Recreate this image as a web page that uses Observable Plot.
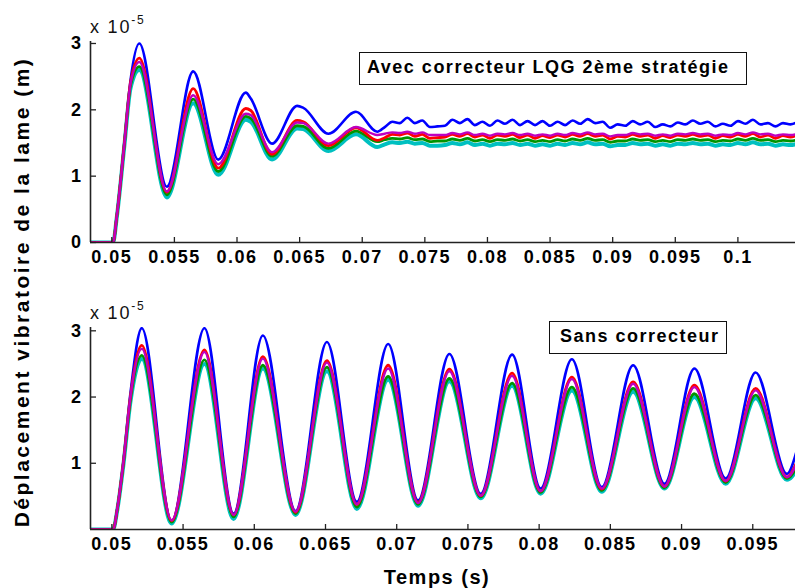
<!DOCTYPE html>
<html><head><meta charset="utf-8">
<script src="https://cdn.jsdelivr.net/npm/d3@7"></script>
<script src="https://cdn.jsdelivr.net/npm/@observablehq/plot@0.6"></script>
<style>
html,body{margin:0;padding:0;background:#fff;}
#root{position:relative;width:795px;height:588px;overflow:hidden;font-family:"Liberation Sans",Arial,sans-serif;color:#000;background:#fff;}
#root svg{position:absolute;left:0;overflow:visible;}
#root svg text{letter-spacing:1.5px;}
.lbl{position:absolute;white-space:nowrap;font-weight:bold;letter-spacing:1.5px;}
.box{position:absolute;border:1.5px solid #111;background:#fff;box-sizing:border-box;font-weight:bold;font-size:18px;letter-spacing:1.5px;white-space:nowrap;line-height:29px;padding-left:7px;}
.exp{position:absolute;white-space:nowrap;font-size:18px;letter-spacing:1.8px;color:#111;}
.exp sup{font-size:12px;position:relative;top:-2px;}
</style>
</head><body>
<div id="root"></div>
<script>
// ---------- DATA ----------
const seriesNames = ["blue", "cyan", "green", "red", "magenta"];

// Top panel: "Avec correcteur LQG 2ème stratégie" (values in 1e-5 m)
const tTop = [0.0483, 0.0501, 0.0504, 0.0510, 0.0515, 0.0522, 0.0544, 0.0565, 0.0585, 0.0607, 0.0611, 0.0628, 0.0648, 0.0653, 0.0673, 0.0695, 0.0712,
  0.0718, 0.0724, 0.0730, 0.0736, 0.0742, 0.0748, 0.0754, 0.0760, 0.0766, 0.0772, 0.0778, 0.0784, 0.0790, 0.0796, 0.0802, 0.0808,
  0.0814, 0.0820, 0.0826, 0.0832, 0.0838, 0.0844, 0.0850, 0.0856, 0.0862, 0.0868, 0.0874, 0.0880, 0.0886, 0.0892, 0.0898, 0.0904,
  0.0910, 0.0916, 0.0922, 0.0928, 0.0934, 0.0940, 0.0946, 0.0952, 0.0958, 0.0964, 0.0970, 0.0976, 0.0982, 0.0988, 0.0994, 0.1000,
  0.1006, 0.1012, 0.1018, 0.1024, 0.1030, 0.1036, 0.1042, 0.1048];
const topBlue = [0, 0, 0.40, 1.50, 2.45, 3.00, 0.84, 2.58, 1.25, 2.26, 2.17, 1.49, 2.06, 2.03, 1.64, 1.97, 1.67,
  1.74, 1.82, 1.80, 1.88, 1.80, 1.84, 1.74, 1.75, 1.76, 1.85,
  1.80, 1.86, 1.77, 1.82, 1.76, 1.84, 1.79, 1.85, 1.77, 1.83,
  1.77, 1.83, 1.76, 1.82, 1.77, 1.84, 1.79, 1.86, 1.80, 1.82,
  1.73, 1.78, 1.76, 1.83, 1.78, 1.82, 1.74, 1.78, 1.75, 1.81,
  1.78, 1.84, 1.79, 1.82, 1.75, 1.79, 1.76, 1.83, 1.79, 1.85,
  1.78, 1.80, 1.75, 1.80, 1.78, 1.82];
const topMagenta = [0, 0, 0.40, 1.48, 2.40, 2.72, 0.77, 2.22, 1.18, 1.94, 1.92, 1.36, 1.81, 1.80, 1.49, 1.74, 1.62,
  1.64, 1.66, 1.65, 1.67, 1.64, 1.66, 1.62, 1.62, 1.62, 1.65,
  1.63, 1.66, 1.62, 1.64, 1.61, 1.64, 1.63, 1.65, 1.62, 1.64,
  1.61, 1.63, 1.61, 1.64, 1.62, 1.65, 1.63, 1.66, 1.63, 1.64,
  1.60, 1.62, 1.62, 1.65, 1.63, 1.64, 1.61, 1.63, 1.61, 1.64,
  1.63, 1.65, 1.63, 1.64, 1.61, 1.63, 1.62, 1.65, 1.63, 1.66,
  1.63, 1.64, 1.61, 1.63, 1.62, 1.64];
const topRed = [0, 0, 0.40, 1.49, 2.42, 2.78, 0.76, 2.32, 1.12, 2.02, 1.99, 1.33, 1.84, 1.82, 1.46, 1.73, 1.54,
  1.58, 1.63, 1.62, 1.65, 1.60, 1.63, 1.57, 1.58, 1.59, 1.63,
  1.60, 1.64, 1.59, 1.62, 1.57, 1.62, 1.60, 1.63, 1.58, 1.62,
  1.57, 1.61, 1.58, 1.62, 1.59, 1.63, 1.60, 1.64, 1.60, 1.62,
  1.56, 1.60, 1.59, 1.63, 1.60, 1.62, 1.57, 1.61, 1.58, 1.62,
  1.60, 1.63, 1.60, 1.62, 1.57, 1.61, 1.59, 1.63, 1.60, 1.64,
  1.59, 1.62, 1.57, 1.61, 1.59, 1.62];
const topGreen = [0, 0, 0.39, 1.47, 2.37, 2.65, 0.72, 2.16, 1.07, 1.90, 1.87, 1.30, 1.76, 1.75, 1.42, 1.68, 1.52,
  1.55, 1.57, 1.56, 1.58, 1.55, 1.56, 1.52, 1.53, 1.53, 1.56,
  1.54, 1.57, 1.53, 1.55, 1.52, 1.55, 1.54, 1.56, 1.53, 1.55,
  1.52, 1.54, 1.52, 1.55, 1.53, 1.56, 1.54, 1.57, 1.54, 1.55,
  1.51, 1.53, 1.53, 1.56, 1.54, 1.55, 1.52, 1.54, 1.52, 1.55,
  1.54, 1.56, 1.54, 1.55, 1.52, 1.54, 1.53, 1.56, 1.54, 1.57,
  1.54, 1.55, 1.52, 1.54, 1.53, 1.55];
const topCyan = [0, 0, 0.38, 1.45, 2.33, 2.60, 0.68, 2.10, 1.02, 1.85, 1.82, 1.25, 1.72, 1.71, 1.38, 1.63, 1.44,
  1.48, 1.51, 1.50, 1.52, 1.49, 1.50, 1.46, 1.46, 1.47, 1.50,
  1.48, 1.51, 1.47, 1.49, 1.46, 1.49, 1.48, 1.50, 1.47, 1.49,
  1.46, 1.48, 1.46, 1.49, 1.47, 1.50, 1.48, 1.51, 1.48, 1.49,
  1.45, 1.47, 1.47, 1.50, 1.48, 1.49, 1.46, 1.48, 1.46, 1.49,
  1.48, 1.50, 1.48, 1.49, 1.46, 1.48, 1.47, 1.50, 1.48, 1.51,
  1.48, 1.49, 1.46, 1.48, 1.47, 1.49];

// Bottom panel: "Sans correcteur"
const tBot = [0.0485, 0.05008, 0.0504, 0.0508, 0.0513, 0.0521, 0.0542, 0.0565, 0.05855, 0.0606, 0.0629, 0.0651, 0.0672, 0.0694,
  0.0715, 0.0737, 0.0759, 0.0781, 0.0801, 0.0823, 0.0844, 0.0866, 0.0888, 0.0909, 0.0931, 0.0952, 0.0974, 0.0981];
const botBlue = [0, 0, 0.34, 1.00, 2.05, 3.04, 0.12, 3.04, 0.24, 2.93, 0.28, 2.83, 0.42, 2.80, 0.44, 2.65, 0.54, 2.64, 0.62, 2.57, 0.64, 2.48, 0.69, 2.43, 0.77, 2.37, 0.84, 1.20];
const botRed = [0, 0, 0.34, 1.00, 2.00, 2.78, 0.13, 2.71, 0.22, 2.61, 0.26, 2.55, 0.38, 2.48, 0.41, 2.42, 0.51, 2.36, 0.58, 2.30, 0.61, 2.23, 0.65, 2.18, 0.73, 2.13, 0.79, 1.02];
const botMagenta = [0, 0, 0.34, 1.00, 2.00, 2.73, 0.14, 2.68, 0.22, 2.58, 0.27, 2.52, 0.38, 2.43, 0.40, 2.39, 0.51, 2.32, 0.58, 2.27, 0.62, 2.20, 0.65, 2.15, 0.73, 2.10, 0.79, 1.00];
const botGreen = [0, 0, 0.33, 0.98, 1.96, 2.63, 0.11, 2.56, 0.19, 2.48, 0.24, 2.45, 0.34, 2.31, 0.38, 2.28, 0.49, 2.21, 0.56, 2.15, 0.59, 2.13, 0.63, 2.05, 0.71, 2.03, 0.77, 0.95];
const botCyan = [0, 0, 0.32, 0.96, 1.92, 2.58, 0.09, 2.50, 0.16, 2.43, 0.22, 2.39, 0.31, 2.26, 0.36, 2.24, 0.47, 2.17, 0.54, 2.10, 0.57, 2.08, 0.62, 2.00, 0.69, 1.98, 0.75, 0.90];

// Axes
const xDomainTop = [0.0483, 0.1046];
const yDomainTop = [0, 3.03];
const xTicksTop = [0.05, 0.055, 0.06, 0.065, 0.07, 0.075, 0.08, 0.085, 0.09, 0.095, 0.1];
const yTicksTop = [0, 1, 2, 3];
const xDomainBot = [0.0485, 0.0980];
const yDomainBot = [0, 3.05];
const xTicksBot = [0.05, 0.055, 0.06, 0.065, 0.07, 0.075, 0.08, 0.085, 0.09, 0.095];
const yTicksBot = [1, 2, 3];

const titleTop = "Avec correcteur LQG 2ème stratégie";
const titleBot = "Sans correcteur";
const yLabel = "Déplacement vibratoire de la lame (m)";
const xLabel = "Temps (s)";

// ---------- DRAW ----------
const colors = {blue: "#0000ff", red: "#ff0000", magenta: "#bf00bf", green: "#009400", cyan: "#00c0c0"};
const widths = {blue: 2.6, red: 2.8, magenta: 2.4, green: 2.8, cyan: 4};
const fmt = d => String(+d.toFixed(4));

function rows(t, vals) { return t.map((x, i) => ({t: x, v: vals[i]})); }

const topSeries = {blue: topBlue, red: topRed, magenta: topMagenta, green: topGreen, cyan: topCyan};
const botSeries = {blue: botBlue, red: botRed, magenta: botMagenta, green: botGreen, cyan: botCyan};

function panel(t, seriesMap, xDomain, yDomain, xTicks, yTicks, margins) {
  const lines = seriesNames.map(name => Plot.line(rows(t, seriesMap[name]), {
    x: "t", y: "v", stroke: colors[name], strokeWidth: widths[name], curve: "monotone-x", clip: true
  }));
  return Plot.plot({
    width: 795, height: 290,
    marginLeft: 90, marginRight: 0, marginTop: margins[0], marginBottom: margins[1],
    style: {fontFamily: '"Liberation Sans", Arial, sans-serif', fontSize: "18px", fontWeight: "bold", color: "#000", background: "transparent", overflow: "visible"},
    x: {domain: xDomain},
    y: {domain: yDomain},
    marks: [
      ...lines,
      Plot.ruleY([yDomain[0]], {stroke: "#222", strokeWidth: 1.6}),
      Plot.ruleX([xDomain[0]], {stroke: "#222", strokeWidth: 1.6}),
      Plot.axisX(xTicks, {tickSize: -5, tickPadding: 13, tickFormat: fmt, label: null, stroke: "#222", strokeWidth: 1.3, fill: "#000"}),
      Plot.axisY(yTicks, {tickSize: -6, tickPadding: 14, tickFormat: fmt, label: null, stroke: "#222", strokeWidth: 1.3, fill: "#000"})
    ]
  });
}

const root = document.getElementById("root");
const svgTop = panel(tTop, topSeries, xDomainTop, yDomainTop, xTicksTop, yTicksTop, [41, 48]);
svgTop.style.top = "0px";
root.appendChild(svgTop);
const svgBot = panel(tBot, botSeries, xDomainBot, yDomainBot, xTicksBot, yTicksBot, [37, 51]);
svgBot.style.top = "290px";
root.appendChild(svgBot);

function addDiv(cls, html, css) {
  const d = document.createElement("div");
  d.className = cls; d.innerHTML = html; Object.assign(d.style, css);
  root.appendChild(d); return d;
}
addDiv("box", titleTop, {left: "359px", top: "52px", width: "388px", height: "33px"});
addDiv("box", titleBot, {left: "549px", top: "321px", width: "178px", height: "33px", paddingLeft: "10px"});
addDiv("exp", "x 10<sup>-5</sup>", {left: "90px", top: "15px"});
addDiv("exp", "x 10<sup>-5</sup>", {left: "90px", top: "301px"});
addDiv("lbl", yLabel, {left: "22px", top: "292px", fontSize: "21px", letterSpacing: "2.5px", transform: "translate(-50%,-50%) rotate(-90deg)"});
addDiv("lbl", xLabel, {left: "437px", top: "577px", fontSize: "20px", transform: "translate(-50%,-50%)"});
</script>
</body></html>
